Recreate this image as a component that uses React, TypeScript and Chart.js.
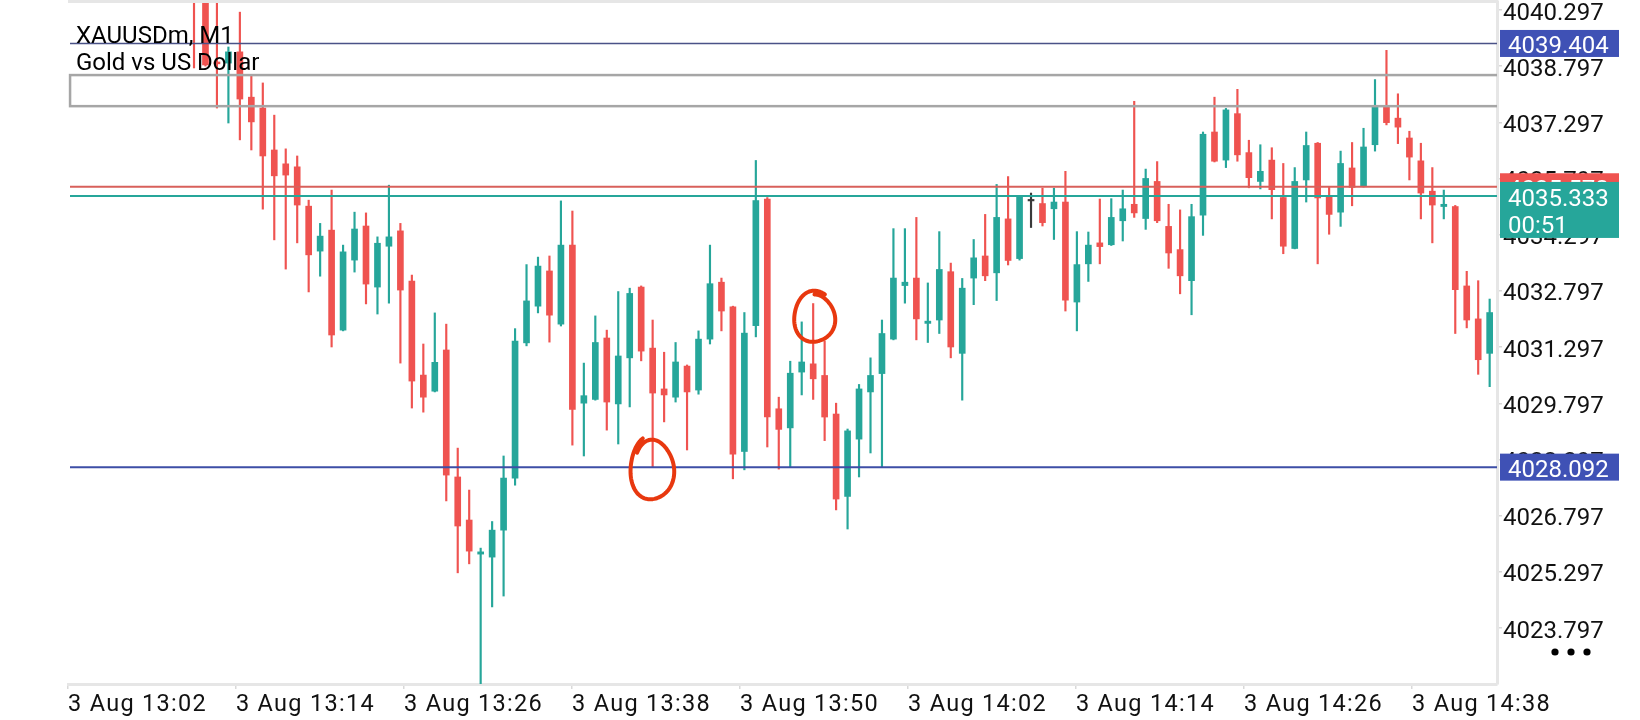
import React, { useEffect, useRef } from 'react';
import { Chart, registerables } from 'chart.js';

Chart.register(...registerables);

// ---- data ----
const opens = [
  4041.37, 4040.78, 4038.91, 4038.88, 4039.18, 4037.97, 4037.68, 4036.56, 4036.19, 4036.11,
  4035.06, 4033.86, 4034.42, 4031.75, 4033.62, 4034.53, 4032.90, 4033.99, 4034.40, 4033.06,
  4030.55, 4030.12, 4031.22, 4027.83, 4026.68, 4025.77, 4025.69, 4026.41, 4027.80, 4031.41,
  4032.39, 4033.33, 4031.91, 4034.02, 4029.80, 4029.90, 4031.54, 4029.78, 4031.01, 4032.90,
  4031.27, 4030.18, 4029.96, 4030.79, 4030.15, 4031.51, 4033.03, 4032.37, 4028.51, 4031.87,
  4035.25, 4029.65, 4029.14, 4030.63, 4030.85, 4030.54, 4029.51, 4027.31, 4028.84, 4030.10,
  4030.59, 4031.51, 4032.94, 4033.14, 4031.93, 4032.02, 4033.31, 4031.13, 4033.14, 4033.73,
  4033.28, 4034.72, 4033.66, 4035.22, 4035.13, 4034.99, 4035.17, 4032.50, 4033.52, 4034.08,
  4034.03, 4034.67, 4035.11, 4034.73, 4035.72, 4034.52, 4033.90, 4033.07, 4034.82, 4037.04,
  4036.29, 4037.53, 4036.49, 4035.72, 4036.29, 4035.29, 4033.93, 4035.76, 4036.74, 4035.32,
  4034.90, 4036.08, 4035.58, 4036.70, 4037.71, 4037.41, 4036.88, 4036.27, 4035.46, 4035.05,
  4035.05, 4032.93, 4032.05, 4031.13,
];
const highs = [
  4041.63, 4041.10, 4040.83, 4039.31, 4040.24, 4038.56, 4038.35, 4037.49, 4036.59, 4036.40,
  4035.22, 4034.60, 4035.49, 4034.02, 4034.90, 4034.88, 4034.24, 4035.62, 4034.60, 4033.22,
  4031.38, 4032.21, 4031.91, 4028.60, 4027.48, 4025.93, 4026.64, 4028.39, 4031.79, 4033.50,
  4033.70, 4033.73, 4035.20, 4034.93, 4030.87, 4032.13, 4031.75, 4032.78, 4032.87, 4032.93,
  4032.02, 4031.16, 4031.42, 4030.82, 4031.73, 4034.02, 4033.14, 4032.39, 4032.22, 4036.28,
  4035.29, 4029.96, 4030.92, 4031.97, 4032.46, 4031.46, 4029.80, 4029.11, 4030.30, 4031.01,
  4032.02, 4034.46, 4034.46, 4034.76, 4033.01, 4034.38, 4033.54, 4033.13, 4034.17, 4034.84,
  4035.64, 4035.85, 4035.33, 4035.41, 4035.54, 4035.54, 4035.99, 4034.38, 4034.37, 4035.25,
  4035.26, 4035.49, 4037.86, 4036.05, 4036.25, 4035.11, 4034.96, 4035.11, 4037.04, 4037.97,
  4037.67, 4038.18, 4036.82, 4036.70, 4036.62, 4036.20, 4036.09, 4037.04, 4036.76, 4035.56,
  4036.53, 4036.76, 4037.14, 4038.44, 4039.22, 4038.06, 4037.06, 4036.74, 4036.09, 4035.49,
  4035.08, 4033.32, 4033.07, 4032.58,
];
const lows = [
  4038.75, 4038.80, 4037.68, 4037.28, 4036.83, 4036.56, 4034.98, 4034.16, 4033.38, 4034.08,
  4032.77, 4033.19, 4031.30, 4031.73, 4033.30, 4032.45, 4032.18, 4032.47, 4030.87, 4029.67,
  4029.56, 4030.10, 4027.19, 4025.27, 4025.51, 4022.14, 4024.36, 4024.65, 4027.61, 4031.33,
  4032.21, 4031.43, 4031.86, 4028.68, 4028.39, 4029.88, 4029.08, 4028.71, 4029.70, 4030.93,
  4028.09, 4029.30, 4029.83, 4028.55, 4030.04, 4031.38, 4031.73, 4027.78, 4028.02, 4031.57,
  4028.63, 4028.04, 4028.10, 4030.02, 4029.90, 4028.80, 4026.95, 4026.44, 4027.83, 4028.47,
  4028.10, 4031.49, 4032.47, 4031.49, 4031.42, 4031.66, 4031.01, 4029.88, 4032.43, 4033.07,
  4032.54, 4033.49, 4033.62, 4034.49, 4034.53, 4034.17, 4032.26, 4031.73, 4033.05, 4033.52,
  4034.01, 4034.13, 4034.76, 4034.44, 4034.62, 4033.40, 4032.72, 4032.16, 4034.28, 4036.24,
  4036.09, 4036.26, 4035.55, 4035.52, 4034.72, 4033.79, 4033.92, 4035.17, 4033.52, 4034.31,
  4034.52, 4035.07, 4035.57, 4036.53, 4037.23, 4036.73, 4035.76, 4034.72, 4034.08, 4034.72,
  4031.66, 4031.81, 4030.57, 4030.24,
];
const closes = [
  4040.78, 4038.83, 4038.86, 4039.18, 4037.92, 4037.31, 4036.40, 4035.87, 4035.89, 4035.09,
  4033.76, 4034.26, 4031.62, 4033.84, 4034.45, 4032.98, 4034.07, 4034.24, 4032.82, 4030.39,
  4029.96, 4030.89, 4027.88, 4026.52, 4025.85, 4025.83, 4026.41, 4027.80, 4031.46, 4032.53,
  4033.46, 4032.15, 4034.02, 4029.63, 4030.00, 4031.42, 4029.83, 4031.06, 4032.73, 4031.19,
  4030.07, 4030.02, 4030.90, 4030.10, 4031.51, 4032.99, 4032.26, 4028.44, 4031.67, 4035.21,
  4029.43, 4029.10, 4030.60, 4030.90, 4030.45, 4029.43, 4027.24, 4029.06, 4030.18, 4030.54,
  4031.66, 4033.14, 4033.03, 4032.05, 4031.99, 4033.37, 4031.30, 4032.87, 4033.68, 4033.20,
  4034.76, 4033.61, 4035.31, 4035.22, 4034.62, 4035.17, 4032.55, 4033.50, 4034.02, 4033.98,
  4034.76, 4034.99, 4034.88, 4035.80, 4034.67, 4033.81, 4033.20, 4034.78, 4036.98, 4036.26,
  4037.63, 4036.43, 4035.82, 4035.99, 4035.50, 4033.99, 4035.72, 4036.68, 4035.28, 4034.84,
  4036.20, 4035.56, 4036.64, 4037.71, 4037.29, 4037.17, 4036.37, 4035.41, 4035.09, 4035.11,
  4032.83, 4032.02, 4030.96, 4032.22,
];

const xTickLabels = [
  '3 Aug 13:02', '3 Aug 13:14', '3 Aug 13:26', '3 Aug 13:38', '3 Aug 13:50',
  '3 Aug 14:02', '3 Aug 14:14', '3 Aug 14:26', '3 Aug 14:38',
];
const xTickBars = [-10.99, 3.66, 18.32, 32.97, 47.62, 62.27, 76.92, 91.58, 106.23];
const xRange = [-10.99, 113.64];

const yTicks = [
  4023.797, 4025.297, 4026.797, 4028.297, 4029.797, 4031.297,
  4032.797, 4034.297, 4035.797, 4037.297, 4038.797, 4040.297,
];
const yRange = [4022.302, 4040.511];

const resistanceLevel = 4039.404;
const supportLevel = 4028.092;
const askPrice = 4035.578;
const bidPrice = 4035.333;
const barTimer = '00:51';
const zonePrices = [4038.56, 4037.73];
const zoneStartBar = -10.81;

const symbolTitle = 'XAUUSDm, M1';
const symbolName = 'Gold vs US Dollar';

// hand-drawn marks
const markBars = [40.0, 54.16];
const markPrices = [4028.04, 4032.08];
const markRadiusBars = [1.96, 1.88];
const markRadiusPrices = [0.85, 0.69];

// ---- styles ----
const UP = '#26a69a';
const DOWN = '#ef5350';
const FLAT = '#3a3a3a';
const FONT = 'Roboto, "Noto Sans", sans-serif';

function candleColor(i: number) {
  if (closes[i] > opens[i]) return UP;
  if (closes[i] < opens[i]) return DOWN;
  return FLAT;
}

function drawHandCircle(
  ctx: CanvasRenderingContext2D,
  cx: number, cy: number, rx: number, ry: number, start: number,
) {
  ctx.beginPath();
  const steps = 90;
  const sweep = Math.PI * 2 + 0.5;
  for (let k = 0; k <= steps; k++) {
    const f = k / steps;
    const t = start + sweep * f;
    const grow = 0.88 + 0.15 * f;
    const wob = 1 + 0.035 * Math.sin(3 * t + 0.7);
    const x = cx + rx * grow * wob * Math.cos(t);
    const y = cy + ry * grow * wob * Math.sin(t);
    if (k === 0) ctx.moveTo(x, y); else ctx.lineTo(x, y);
  }
  ctx.stroke();
}

const overlayPlugin = {
  id: 'mtOverlay',
  afterDatasetsDraw(chart: any) {
    const { ctx, chartArea: a, scales } = chart;
    const x = scales.x, y = scales.y;
    ctx.save();
    ctx.beginPath();
    ctx.rect(a.left, a.top, a.right - a.left, a.bottom - a.top);
    ctx.clip();

    const hline = (price: number, color: string, w: number) => {
      const py = y.getPixelForValue(price);
      ctx.strokeStyle = color;
      ctx.lineWidth = w;
      ctx.beginPath();
      ctx.moveTo(a.left + 2, py);
      ctx.lineTo(a.right, py);
      ctx.stroke();
    };
    // zone rectangle
    const zx = x.getPixelForValue(zoneStartBar);
    const zt = y.getPixelForValue(zonePrices[0]);
    const zb = y.getPixelForValue(zonePrices[1]);
    ctx.strokeStyle = '#a6a6a6';
    ctx.lineWidth = 2.5;
    ctx.strokeRect(zx, zt, a.right + 20 - zx, zb - zt);

    hline(resistanceLevel, '#4a5287', 1.6);
    hline(askPrice, '#d8605b', 2);
    hline(bidPrice, '#26a69a', 2);
    hline(supportLevel, '#3d4ea6', 2);

    // hand-drawn circles
    ctx.strokeStyle = '#e8380f';
    ctx.lineWidth = 4;
    ctx.lineCap = 'round';
    ctx.lineJoin = 'round';
    const starts = [-2.5, -1.6];
    markBars.forEach((b, i) => {
      const cx = x.getPixelForValue(b);
      const cy = y.getPixelForValue(markPrices[i]);
      const rx = Math.abs(x.getPixelForValue(b + markRadiusBars[i]) - cx);
      const ry = Math.abs(y.getPixelForValue(markPrices[i] + markRadiusPrices[i]) - cy);
      drawHandCircle(ctx, cx, cy, rx, ry, starts[i]);
    });
    ctx.restore();
    // the time labels (drawn after this hook) are slightly letter-spaced
    (ctx as any).letterSpacing = '1.3px';
  },
  afterDraw(chart: any) {
    const { ctx, chartArea: a, scales } = chart;
    const y = scales.y;
    (ctx as any).letterSpacing = '0px';
    ctx.save();
    // top frame line
    ctx.strokeStyle = '#e6e6e6';
    ctx.lineWidth = 3;
    ctx.beginPath();
    ctx.moveTo(a.left, 1.5);
    ctx.lineTo(a.right + 1.5, 1.5);
    ctx.stroke();

    // price boxes
    const bx = a.right + 3;
    const bw = 119;
    const tx = a.right + 11;
    ctx.font = `24px ${FONT}`;
    ctx.textBaseline = 'middle';
    ctx.textAlign = 'left';
    const box = (price: number, color: string, lines: string[]) => {
      const py = y.getPixelForValue(price);
      const h = lines.length > 1 ? 56 : 27;
      ctx.fillStyle = color;
      ctx.fillRect(bx, py - (lines.length > 1 ? 14 : 13.5), bw, h);
      ctx.fillStyle = '#ffffff';
      lines.forEach((s, i) => ctx.fillText(s, tx, py + 4 + i * 27.5));
    };
    box(resistanceLevel, '#3f51b5', [resistanceLevel.toFixed(3)]);
    box(askPrice, '#ef5350', [askPrice.toFixed(3)]);
    box(bidPrice, '#26a69a', [bidPrice.toFixed(3), barTimer]);
    box(supportLevel, '#3f51b5', [supportLevel.toFixed(3)]);

    // dots menu
    ctx.fillStyle = '#000000';
    [58, 74, 90].forEach((dx) => {
      ctx.beginPath();
      ctx.arc(a.right + dx, a.bottom - 32, 3.6, 0, Math.PI * 2);
      ctx.fill();
    });

    // symbol text
    ctx.fillStyle = '#000000';
    ctx.font = `24px ${FONT}`;
    ctx.textBaseline = 'alphabetic';
    ctx.fillText(symbolTitle, a.left + 8, a.top + 41);
    ctx.fillText(symbolName, a.left + 8, a.top + 68);
    ctx.restore();
  },
};

export default function App() {
  const ref = useRef<HTMLCanvasElement | null>(null);

  useEffect(() => {
    if (!ref.current) return;
    const n = opens.length;
    const idx = Array.from({ length: n }, (_, i) => i);
    const colors = idx.map(candleColor);
    const wickData = idx.map((i) => ({ x: i, y: [lows[i], highs[i]] }));
    const bodyData = idx.map((i) => {
      const lo = Math.min(opens[i], closes[i]);
      const hi = Math.max(opens[i], closes[i]);
      return hi - lo < 0.03 ? { x: i, y: [lo - 0.02, hi + 0.02] } : { x: i, y: [lo, hi] };
    });

    const chart = new Chart(ref.current, {
      type: 'bar',
      data: {
        datasets: [
          {
            data: wickData as any,
            backgroundColor: colors,
            barThickness: 1.5,
            grouped: false,
            borderWidth: 0,
            clip: 0 as any,
          },
          {
            data: bodyData as any,
            backgroundColor: colors,
            barThickness: 6,
            grouped: false,
            borderWidth: 0,
            clip: 0 as any,
          },
        ],
      },
      options: {
        animation: false,
        responsive: false,
        events: [],
        layout: { padding: { left: 68, top: 2, right: 0, bottom: 0 } },
        plugins: {
          legend: { display: false },
          tooltip: { enabled: false },
          title: { display: false },
        },
        scales: {
          x: {
            type: 'linear',
            min: xRange[0],
            max: xRange[1],
            offset: false,
            grid: {
              offset: false,
              drawOnChartArea: false,
              drawTicks: true,
              tickLength: 5,
              color: '#d9d9d9',
              lineWidth: 1.5,
            },
            border: { display: true, color: '#e6e6e6', width: 3 },
            afterBuildTicks: (s: any) => {
              s.ticks = xTickBars.map((v) => ({ value: v }));
            },
            afterFit: (s: any) => {
              s.height = 36;
              s.paddingLeft = 0;
              s.paddingRight = 0;
            },
            ticks: {
              z: 1,
              autoSkip: false,
              maxRotation: 0,
              minRotation: 0,
              align: 'start',
              padding: 4,
              color: '#111111',
              font: { family: FONT, size: 23.5, lineHeight: 1 },
              callback: (_v: any, i: number) => xTickLabels[i],
            },
          },
          y: {
            type: 'linear',
            position: 'right',
            min: yRange[0],
            max: yRange[1],
            grid: {
              drawOnChartArea: false,
              drawTicks: true,
              tickLength: 5,
              color: '#d9d9d9',
              lineWidth: 1.5,
            },
            border: { display: true, color: '#e6e6e6', width: 3 },
            afterBuildTicks: (s: any) => {
              s.ticks = yTicks.map((v) => ({ value: v }));
            },
            afterFit: (s: any) => {
              s.width = 143;
              s.paddingTop = 0;
              s.paddingBottom = 0;
            },
            ticks: {
              padding: 1,
              labelOffset: 3.5,
              color: '#111111',
              font: { family: FONT, size: 24, lineHeight: 1 },
              callback: (v: any) => Number(v).toFixed(3),
            },
          },
        },
      } as any,
      plugins: [overlayPlugin],
    });
    return () => chart.destroy();
  }, []);

  return (
    <div style={{ position: 'fixed', left: 0, top: 0, width: 1640, height: 720, background: '#ffffff' }}>
      <canvas ref={ref} width={1640} height={720} style={{ width: 1640, height: 720, display: 'block' }} />
    </div>
  );
}
